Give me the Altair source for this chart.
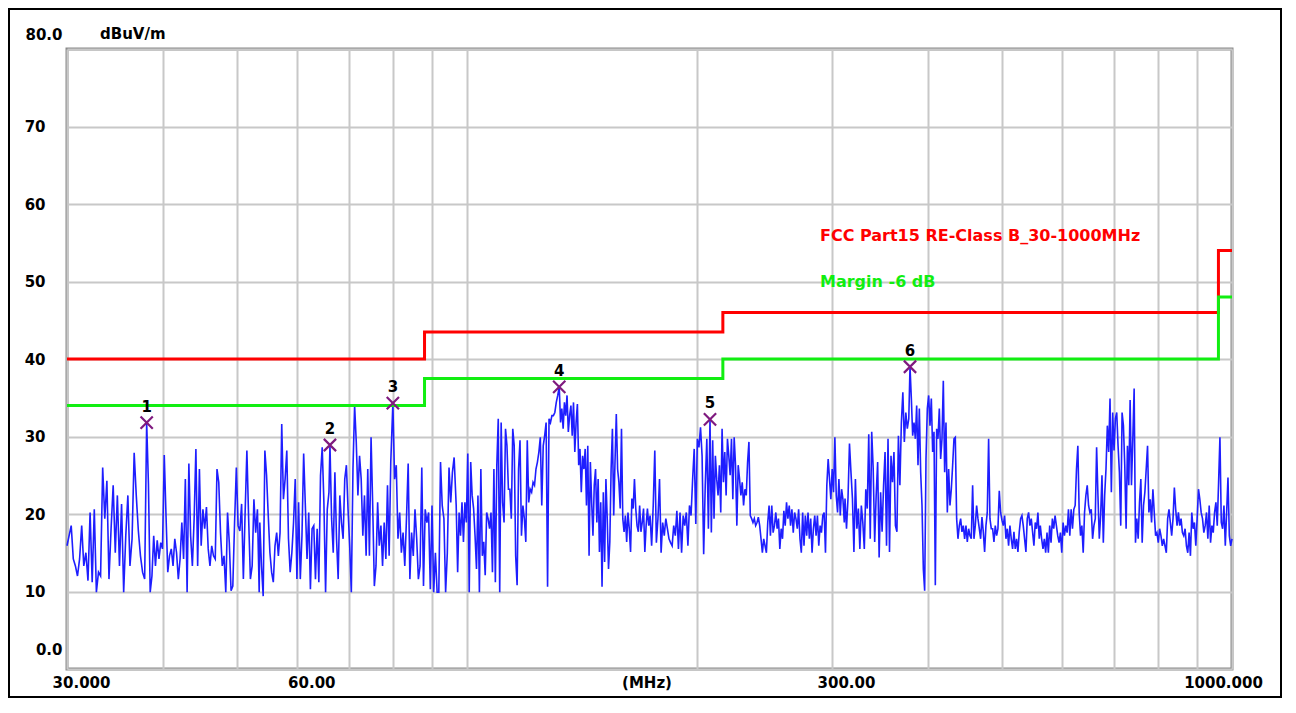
import altair as alt
import numpy as np
import pandas as pd

# ---------------- data ----------------
# Limit line (FCC Part15 Class B) and margin line, step-after points
limit_freq = [30, 88, 216, 960, 1000]
limit_level = [40, 43.5, 46, 54, 54]
margin_level = [34, 37.5, 40, 48, 48]

# Markers
marker_freq = [38.13, 66.2, 80.0, 132.0, 207.8, 379.4]
marker_level = [31.8, 28.9, 34.3, 36.4, 32.2, 39.0]
marker_no = ["1", "2", "3", "4", "5", "6"]

# Axis labels
x_grid_values = [30, 40, 50, 60, 70, 80, 90, 100, 200, 300, 400, 500, 600, 700, 800, 900, 1000]
y_grid_values = [0, 10, 20, 30, 40, 50, 60, 70, 80]

# Measured trace, split in sweep segments (start MHz, end MHz)
seg_bounds = [(30.0, 37.9), (38.13, 53.5), (53.6, 66.0), (66.2, 79.5), (80.0, 96.2),
              (96.8, 131.4), (132.0, 172.8), (173.5, 206.8), (207.8, 311.3),
              (312.0, 378.0), (379.4, 559.8), (561.6, 1000.0)]

seg_a = [15.9, 17.2, 18.5, 14.2, 13.3, 12.0, 14.2, 18.5, 13.3, 15.0, 11.4, 20.2, 11.2, 20.6, 9.9,
         12.5, 12.0, 26.0, 19.4, 24.3, 11.6, 18.1, 23.7, 15.0, 22.4, 13.3, 21.3, 9.9, 17.2, 22.4,
         13.3, 16.8, 27.9, 22.4, 17.8, 14.6, 12.5, 11.6]
seg_b = [31.8, 23.9, 9.9, 12.0, 17.2, 13.3, 16.6, 14.2, 16.3, 15.5, 27.6, 19.8, 12.5, 14.6, 15.5,
         13.3, 16.8, 15.0, 11.6, 14.2, 18.9, 14.2, 24.5, 9.9, 26.5, 17.2, 13.3, 19.4, 28.4, 13.3,
         25.8, 15.9, 20.6, 18.1, 20.9, 15.5, 13.3, 15.9, 14.6, 14.2, 25.8, 24.1, 17.6, 13.3, 14.6,
         9.9, 20.2, 16.3, 10.1, 10.7, 18.9, 26.0, 18.5, 17.8, 21.3, 11.6, 20.2, 28.2, 19.4, 11.6,
         13.3, 21.9, 17.6, 20.6, 9.9]
seg_c = [18.9, 13.3, 9.4, 28.2, 25.0, 19.8, 15.0, 12.5, 11.2, 15.9, 17.6, 14.6, 17.6, 31.6, 21.9,
         24.5, 28.2, 16.8, 12.5, 15.0, 18.9, 24.5, 11.6, 21.5, 11.6, 17.2, 27.8, 21.1, 14.2, 20.2,
         10.3, 18.1, 18.5, 11.6, 18.1, 11.2, 25.0, 28.6, 21.5, 9.9, 20.6, 22.8]
seg_d = [28.9, 19.4, 15.0, 25.4, 16.8, 11.6, 22.4, 18.9, 16.8, 24.5, 26.3, 20.6, 15.9, 9.9, 25.8,
         34.0, 29.3, 22.4, 27.5, 24.5, 17.2, 22.4, 14.6, 25.8, 14.6, 29.9, 21.1, 10.7, 13.3, 21.5,
         15.9, 18.5, 13.3, 18.9, 14.2, 23.7, 14.6, 26.7]
seg_e = [34.3, 24.5, 26.3, 16.8, 20.2, 15.0, 17.6, 13.3, 19.4, 26.5, 11.6, 17.6, 14.6, 20.6, 16.8,
         11.6, 13.3, 26.0, 10.7, 20.6, 18.9, 20.2, 10.3, 21.1, 9.9, 15.0, 9.9, 9.9, 26.7, 21.1,
         19.4, 9.9, 15.0, 26.0, 21.5, 25.4, 27.3]
seg_f = [21.1, 12.5, 20.2, 17.2, 21.5, 16.4, 21.5, 18.9, 27.8, 9.9, 26.7, 22.4, 20.7, 17.2, 12.9,
         22.4, 9.9, 25.8, 14.6, 16.4, 12.1, 20.2, 19.4, 18.1, 20.2, 12.5, 25.8, 11.2, 26.3, 32.3,
         9.9, 31.8, 21.5, 18.9, 31.0, 28.8, 23.2, 23.2, 19.4, 31.0, 28.8, 14.6, 10.8, 25.8, 29.5,
         17.2, 21.1, 19.4, 16.4, 29.5, 21.5, 23.2, 22.8, 24.1, 23.7, 25.8, 26.7, 28.0, 29.9, 21.1,
         28.8, 30.1, 31.8, 10.6, 32.3, 31.8, 32.7, 32.7, 33.1, 34.4, 35.3]
seg_g = [36.4, 31.8, 33.6, 31.0, 34.4, 32.7, 35.3, 30.6, 32.7, 34.0, 30.1, 34.4, 28.0, 31.8, 34.2,
         26.3, 28.4, 22.8, 27.5, 25.8, 28.4, 21.1, 28.8, 14.6, 26.7, 21.5, 17.2, 23.7, 25.8, 18.9,
         24.5, 15.1, 21.5, 10.6, 22.8, 13.8, 24.5, 19.4, 12.9, 16.4, 25.8, 31.0, 19.8, 26.7, 32.9,
         25.8, 24.1, 20.7, 31.0, 19.4, 17.7, 19.8, 16.4, 20.2, 18.1, 15.1, 22.0, 20.7, 24.5, 20.7,
         18.5, 17.7, 21.1, 17.7, 18.9, 20.7, 15.1, 18.5, 20.7, 18.5]
seg_h = [19.8, 15.9, 21.1, 28.2, 16.3, 19.4, 24.5, 15.0, 18.9, 17.2, 19.4, 18.1, 16.8, 16.3, 15.9,
         18.5, 17.2, 20.4, 15.5, 20.2, 15.0, 19.8, 18.5, 20.2, 15.9, 21.1, 19.8, 24.5, 28.4, 18.7,
         29.7, 28.6, 31.2, 27.5, 14.8, 23.7, 29.7, 18.1]
seg_i = [32.2, 17.6, 29.5, 19.4, 27.5, 24.5, 22.4, 26.3, 20.2, 31.0, 24.1, 28.0, 22.4, 29.7, 27.5,
         25.0, 29.7, 21.9, 29.9, 26.3, 18.5, 26.3, 24.5, 22.4, 24.1, 21.1, 23.2, 22.4, 26.7, 29.3,
         19.8, 19.4, 18.9, 19.4, 18.5, 18.9, 19.6, 18.5, 16.8, 15.0, 16.8, 15.9, 15.0, 18.9, 21.1,
         17.2, 21.1, 17.6, 18.5, 20.2, 18.1, 19.4, 15.5, 18.1, 16.8, 20.4, 18.5, 21.5, 19.4, 21.1,
         18.5, 20.6, 17.6, 20.2, 19.4, 18.1, 20.6, 16.8, 15.0, 20.2, 15.9, 19.8, 17.2, 20.2, 16.8,
         19.4, 15.0, 18.1, 19.8, 17.2, 19.8, 15.9, 18.5, 17.6, 19.8, 20.2, 15.0, 23.7, 27.1, 24.5,
         21.9, 25.8, 22.8, 29.9, 22.4, 20.2, 24.5, 19.8, 23.2, 21.9, 18.9]
seg_j = [22.0, 18.1, 22.0, 29.1, 25.4, 22.0, 15.1, 24.5, 18.1, 20.7, 15.5, 21.1, 18.9, 15.5, 23.2,
         20.7, 30.3, 16.8, 30.6, 25.8, 16.4, 22.4, 26.7, 14.4, 22.8, 17.7, 23.7, 28.0, 15.9, 29.7,
         15.1, 27.5, 24.1, 28.0, 18.5, 17.7, 30.1, 23.7, 31.8, 35.7, 29.3, 33.1, 31.0, 32.3]
seg_k = [39.0, 34.9, 30.1, 31.8, 29.7, 34.0, 26.3, 33.6, 25.4, 21.1, 12.9, 10.1, 27.1, 33.6, 35.3,
         31.4, 34.9, 28.0, 30.6, 10.8, 31.0, 29.7, 33.6, 27.1, 29.7, 37.2, 25.4, 31.8, 20.2, 25.8,
         21.1, 23.2, 26.3, 29.7, 29.9, 19.4, 16.8, 18.5, 19.4, 17.7, 18.5, 16.8, 18.5, 16.4, 18.1,
         17.2, 16.8, 23.7, 16.8, 18.5, 21.1, 19.4, 18.1, 16.8, 19.6, 17.7, 15.1, 18.5, 20.2, 29.7,
         19.4, 18.1, 18.1, 16.4, 18.5, 17.2, 18.1, 23.0, 20.2, 19.2, 18.5, 19.8, 16.8, 18.1, 15.9,
         18.5, 16.8, 15.5, 17.7, 15.5, 16.8, 15.1, 17.7, 19.4, 19.8, 18.5, 16.8, 15.1, 19.4, 20.2,
         18.5, 19.4, 17.7, 15.9, 18.9, 18.1, 20.2, 16.8]
seg_l = [18.5, 16.8, 15.5, 16.8, 15.0, 17.6, 15.0, 18.5, 16.3, 19.4, 18.1, 19.8, 18.5, 17.2, 16.3,
         17.6, 15.0, 18.9, 17.2, 18.5, 17.6, 20.6, 17.2, 20.6, 18.1, 20.6, 21.1, 25.8, 28.8, 20.2,
         17.2, 18.5, 15.0, 20.2, 22.4, 23.7, 21.1, 20.2, 20.6, 16.8, 18.5, 19.4, 28.6, 22.4, 16.8,
         19.8, 25.0, 16.3, 22.4, 25.8, 31.4, 28.0, 34.9, 22.8, 33.1, 28.2, 32.3, 33.1, 28.8, 25.4,
         18.5, 33.1, 31.4, 26.3, 18.1, 28.8, 23.7, 34.7, 23.7, 29.7, 36.2, 16.3, 19.4, 16.8, 21.5,
         24.5, 16.3, 21.1, 22.8, 25.8, 28.8, 20.2, 21.9, 18.9, 23.2, 20.2, 17.2, 17.6, 16.3, 18.1,
         17.2, 15.9, 16.8, 15.9, 15.0, 19.4, 20.6, 18.9, 17.2, 19.4, 23.4, 20.6, 18.5, 20.2, 18.5,
         19.4, 17.6, 17.2, 18.1, 15.9, 15.0, 17.6, 14.6, 20.2, 18.1, 18.9, 15.9, 19.4, 23.2, 21.9,
         20.2, 19.4, 17.6, 18.5, 20.2, 16.8, 21.1, 16.3, 18.5, 17.6, 20.2, 21.5, 18.5, 24.1, 29.9,
         18.9, 18.1, 21.1, 15.9, 20.2, 24.7, 17.2, 15.9, 16.8]

segments = [seg_a, seg_b, seg_c, seg_d, seg_e, seg_f, seg_g, seg_h, seg_i, seg_j, seg_k, seg_l]

# ---------------- tables ----------------
tf, tl = [], []
for (f0, f1), vals in zip(seg_bounds, segments):
    tf.extend(np.geomspace(f0, f1, len(vals)).tolist())
    tl.extend(vals)
trace = pd.DataFrame({"f": tf, "db": tl, "i": range(len(tf))})
limit_df = pd.DataFrame({"f": limit_freq, "db": limit_level})
margin_df = pd.DataFrame({"f": limit_freq, "db": margin_level})
marker_df = pd.DataFrame({"f": marker_freq, "db": marker_level, "n": marker_no})
one = pd.DataFrame({"k": [0]})

FONT = "DejaVu Sans"
W, H = 1165, 620

xs = alt.Scale(type="log", domain=[30, 1000], nice=False, zero=False)
ys = alt.Scale(domain=[0, 80], nice=False, zero=False)

x_axis = alt.Axis(
    values=x_grid_values,
    labelExpr="datum.value == 30 ? '30.000' : datum.value == 60 ? '60.00' : "
              "datum.value == 300 ? '300.00' : datum.value == 1000 ? '1000.000' : ''",
    labelOverlap=False, labelFlush=False, labelAlign="center", labelBaseline="middle",
    labelPadding=13,
    labelOffset={"condition": {"test": "datum.value == 1000", "value": -9}, "value": 14},
    ticks=False, domain=False, grid=True, gridColor="#c8c8c8", gridWidth=2,
    labelFont=FONT, labelFontWeight="bold", labelFontSize=15, labelColor="black",
    title=None,
)
y_axis = alt.Axis(
    values=y_grid_values,
    labelExpr="datum.value == 0 ? '0.0' : datum.value == 80 ? '80.0' : datum.label",
    labelOverlap=False, labelFlush=False, labelBaseline="middle",
    labelPadding={"condition": {"test": "datum.value == 0 || datum.value == 80", "value": 5},
                  "value": 22},
    labelOffset={"condition": [{"test": "datum.value == 0", "value": -20},
                               {"test": "datum.value == 80", "value": -15}], "value": 0},
    ticks=False, domain=False, grid=True, gridColor="#c8c8c8", gridWidth=2,
    labelFont=FONT, labelFontWeight="bold", labelFontSize=15, labelColor="black",
    title=None,
)

frame = alt.Chart(one).mark_rect(fillOpacity=0, stroke="black", strokeWidth=2).encode(
    x=alt.value(-58), x2=alt.value(W + 49), y=alt.value(-40), y2=alt.value(H + 28))

trace_line = alt.Chart(trace).mark_line(color="#1e1eff", strokeWidth=1.6).encode(
    x=alt.X("f:Q", scale=xs, axis=x_axis),
    y=alt.Y("db:Q", scale=ys, axis=y_axis),
    order="i:Q",
)
limit_line = alt.Chart(limit_df).mark_line(color="#ff0000", strokeWidth=3,
                                           interpolate="step-after").encode(
    x=alt.X("f:Q", scale=xs), y=alt.Y("db:Q", scale=ys))
margin_line = alt.Chart(margin_df).mark_line(color="#11ee11", strokeWidth=3,
                                             interpolate="step-after").encode(
    x=alt.X("f:Q", scale=xs), y=alt.Y("db:Q", scale=ys))

markers = alt.Chart(marker_df).mark_point(
    shape="M -1 -1 L 1 1 M -1 1 L 1 -1", filled=False, color="#7f1a7f",
    strokeWidth=2.2, size=150, opacity=1).encode(
    x=alt.X("f:Q", scale=xs), y=alt.Y("db:Q", scale=ys))
marker_txt = alt.Chart(marker_df).mark_text(
    font=FONT, fontWeight="bold", fontSize=15, color="black", dy=-16, baseline="middle").encode(
    x=alt.X("f:Q", scale=xs), y=alt.Y("db:Q", scale=ys), text="n:N")

def label(txt, x, y, color="black", size=15, align="left"):
    return alt.Chart(one).mark_text(text=txt, font=FONT, fontWeight="bold", fontSize=size,
                                    color=color, align=align, baseline="middle").encode(
        x=alt.value(x), y=alt.value(y))

unit_txt = label("dBuV/m", 33, -15)
mhz_txt = label("(MHz)", 580, 634, align="center")
lim_txt = label("FCC Part15 RE-Class B_30-1000MHz", 753, 187, color="#ff0000", size=16)
mar_txt = label("Margin -6 dB", 753, 233, color="#11ee11", size=16)

chart = alt.layer(
    trace_line, frame, limit_line, margin_line, markers, marker_txt,
    unit_txt, mhz_txt, lim_txt, mar_txt,
).properties(
    width=W, height=H,
    padding={"left": 59, "top": 41, "right": 50, "bottom": 29},
    autosize=alt.AutoSizeParams(type="none"),
    background="white",
).configure_view(stroke="#8a8a8a", strokeWidth=3)

chart.save("out.html", embed_options={"renderer": "svg", "actions": False})
